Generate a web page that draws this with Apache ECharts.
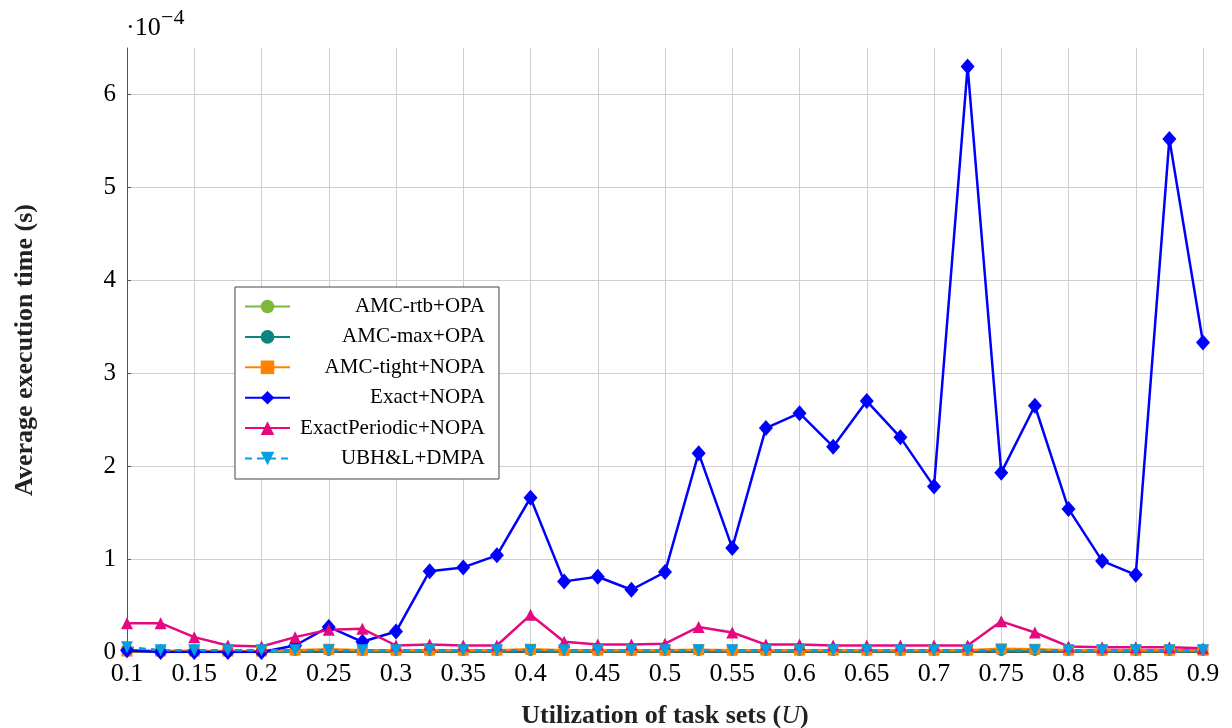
<!DOCTYPE html>
<html>
<head>
<meta charset="utf-8">
<script src="https://cdn.jsdelivr.net/npm/echarts@6/dist/echarts.min.js"></script>
<style>
  html, body { margin: 0; padding: 0; background: #fff; }
  #chart { width: 1232px; height: 728px; }
</style>
</head>
<body>
<div id="chart"></div>
<script>
// Utilization values (x)
const utilization = [0.1, 0.125, 0.15, 0.175, 0.2, 0.225, 0.25, 0.275, 0.3, 0.325, 0.35, 0.375,
  0.4, 0.425, 0.45, 0.475, 0.5, 0.525, 0.55, 0.575, 0.6, 0.625, 0.65, 0.675,
  0.7, 0.725, 0.75, 0.775, 0.8, 0.825, 0.85, 0.875, 0.9];

// Average execution time, in units of 1e-4 s
const amcRtbOpa = [0.01, 0.01, 0.01, 0.005, 0.005, 0.01, 0.015, 0.01, 0.01, 0.01, 0.01, 0.01,
  0.015, 0.01, 0.01, 0.01, 0.01, 0.015, 0.01, 0.01, 0.01, 0.01, 0.01, 0.01,
  0.01, 0.01, 0.015, 0.015, 0.01, 0.01, 0.01, 0.01, 0.01];
const amcMaxOpa = [0.01, 0.01, 0.005, 0.005, 0.005, 0.01, 0.01, 0.01, 0.01, 0.01, 0.01, 0.01,
  0.01, 0.01, 0.01, 0.01, 0.01, 0.01, 0.01, 0.01, 0.01, 0.01, 0.01, 0.01,
  0.01, 0.01, 0.01, 0.01, 0.01, 0.01, 0.01, 0.01, 0.01];
const amcTightNopa = [0.01, 0.01, 0.01, 0.01, 0.01, 0.02, 0.03, 0.02, 0.02, 0.02, 0.02, 0.02,
  0.03, 0.02, 0.02, 0.02, 0.02, 0.025, 0.02, 0.02, 0.02, 0.02, 0.02, 0.02,
  0.02, 0.02, 0.035, 0.03, 0.02, 0.02, 0.02, 0.02, 0.02];
const exactNopa = [0.02, 0.0, 0.0, 0.0, 0.0, 0.07, 0.27, 0.11, 0.22, 0.87, 0.91, 1.04,
  1.66, 0.76, 0.81, 0.67, 0.86, 2.14, 1.12, 2.41, 2.57, 2.21, 2.70, 2.31,
  1.78, 6.30, 1.93, 2.65, 1.54, 0.98, 0.83, 5.52, 3.33];
const exactPeriodicNopa = [0.31, 0.31, 0.16, 0.07, 0.06, 0.16, 0.24, 0.25, 0.07, 0.08, 0.07, 0.07,
  0.40, 0.11, 0.08, 0.08, 0.09, 0.27, 0.21, 0.08, 0.08, 0.07, 0.07, 0.07,
  0.07, 0.07, 0.33, 0.21, 0.06, 0.05, 0.05, 0.05, 0.04];
const ubhlDmpa = [0.05, 0.02, 0.02, 0.02, 0.02, 0.02, 0.02, 0.02, 0.02, 0.02, 0.02, 0.02,
  0.02, 0.02, 0.02, 0.02, 0.02, 0.02, 0.02, 0.02, 0.02, 0.02, 0.02, 0.02,
  0.02, 0.02, 0.02, 0.02, 0.02, 0.02, 0.02, 0.02, 0.02];

const seriesNames = ['AMC-rtb+OPA', 'AMC-max+OPA', 'AMC-tight+NOPA', 'Exact+NOPA', 'ExactPeriodic+NOPA', 'UBH&L+DMPA'];
const xTicks = { min: 0.1, max: 0.9, interval: 0.05 };
const yTicks = { min: 0, max: 6.5, interval: 1 };

const FONT = 'Liberation Serif';
const pair = ys => utilization.map((x, i) => [x, ys[i]]);

function mk(name, ys, color, symbol, size, extra) {
  return Object.assign({
    name: name,
    type: 'line',
    data: pair(ys),
    symbol: symbol,
    symbolSize: size,
    lineStyle: { color: color, width: 2.5 },
    itemStyle: { color: color },
    animation: false
  }, extra || {});
}

const chart = echarts.init(document.getElementById('chart'), null, { renderer: 'canvas' });
chart.setOption({
  animation: false,
  grid: { left: 127, right: 29, top: 48, bottom: 76, containLabel: false, outerBoundsMode: 'none' },
  legend: {
    orient: 'vertical',
    left: 235,
    top: 287,
    padding: [9, 14, 10, 9],
    itemWidth: 45,
    itemHeight: 17,
    itemGap: 9.4,
    backgroundColor: '#fff',
    borderColor: '#444',
    borderWidth: 1,
    borderRadius: 0,
    data: seriesNames,
    formatter: n => '{t|' + n + '}',
    textStyle: {
      fontFamily: FONT,
      fontSize: 21,
      color: '#000',
      rich: { t: { width: 190, align: 'right', fontFamily: FONT, fontSize: 21, lineHeight: 20, color: '#000' } }
    }
  },
  xAxis: {
    type: 'value',
    min: xTicks.min, max: xTicks.max, interval: xTicks.interval,
    name: '{b|Utilization of task sets (}{i|U}{b|)}',
    nameLocation: 'middle',
    nameGap: 51,
    nameTextStyle: {
      rich: {
        b: { fontFamily: FONT, fontSize: 26, fontWeight: 'bold', color: '#222' },
        i: { fontFamily: FONT, fontSize: 26, fontStyle: 'italic', color: '#222' }
      }
    },
    axisLine: { onZero: false, lineStyle: { color: '#555', width: 1 } },
    axisTick: { inside: true, length: 4, lineStyle: { color: '#555' } },
    axisLabel: {
      fontFamily: FONT, fontSize: 26, color: '#000', margin: 9,
      formatter: v => String(+v.toFixed(3))
    },
    splitLine: { show: true, lineStyle: { color: '#cfcfcf', width: 1 } }
  },
  yAxis: {
    type: 'value',
    min: yTicks.min, max: yTicks.max, interval: yTicks.interval,
    name: 'Average execution time (s)',
    nameLocation: 'middle',
    nameGap: 89,
    nameRotate: 90,
    nameTextStyle: { fontFamily: FONT, fontSize: 26, fontWeight: 'bold', color: '#222' },
    axisLine: { show: true, lineStyle: { color: '#555', width: 1 } },
    axisTick: { show: true, inside: true, length: 4, lineStyle: { color: '#555' } },
    axisLabel: {
      fontFamily: FONT, fontSize: 25, color: '#000', margin: 11,
      showMaxLabel: false,
      formatter: v => String(+v.toFixed(2))
    },
    splitLine: { show: true, showMaxLine: false, lineStyle: { color: '#cfcfcf', width: 1 } }
  },
  graphic: [
    { type: 'text', left: 126, top: 15, style: { text: '·10', fontFamily: FONT, fontSize: 26, fill: '#000' } },
    { type: 'text', left: 161, top: 7, style: { text: '−4', fontFamily: FONT, fontSize: 22, fill: '#000' } }
  ],
  series: [
    mk(seriesNames[0], amcRtbOpa, '#7cb83a', 'circle', 10),
    mk(seriesNames[1], amcMaxOpa, '#0a8582', 'circle', 10),
    mk(seriesNames[2], amcTightNopa, '#ff8200', 'rect', 11),
    mk(seriesNames[3], exactNopa, '#0000ff', 'diamond', [14, 16]),
    mk(seriesNames[4], exactPeriodicNopa, '#e6087f', 'triangle', 12),
    mk(seriesNames[5], ubhlDmpa, '#00a0e3', 'triangle', 12, {
      symbolRotate: 180,
      lineStyle: { color: '#00a0e3', width: 2.5, type: [7, 5] }
    })
  ]
});
</script>
</body>
</html>
